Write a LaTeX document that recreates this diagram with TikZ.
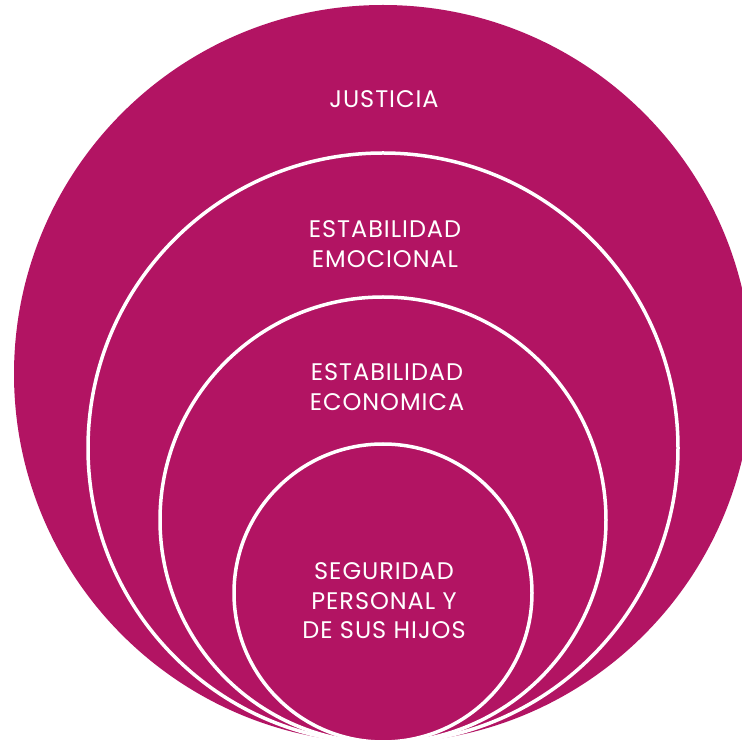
\documentclass[tikz,border=0pt]{standalone}
\usepackage{fontspec}
\setmainfont[LetterSpace=4]{Poppins}
\definecolor{discfill}{RGB}{178,20,99}
\newcommand{\ring}[4]{% #1: name, #2: x, #3: y, #4: diameter
	\node[ring,minimum size=#4pt] (#1) at (#2,#3) {};
}
\tikzset{
	ring/.style={circle,inner sep=0pt,fill=discfill,draw=white,line width=3.5pt},
	lbl/.style={text=white,font=\fontsize{24}{29.5}\selectfont,align=center}
}
\begin{document}
\begin{tikzpicture}[x=1pt,y=1pt]
	\useasboundingbox (0,0) rectangle (742,745);
	\clip (0,0) rectangle (742,745);
	
	% Outer disc
	\node[circle,inner sep=0pt,fill=discfill,minimum size=738pt] (justicia) at (383,371) {};
	
	% Nested rings, all touching at the bottom
	\ring{emocional}{383}{297}{590}
	\ring{economica}{383}{225}{446}
	\ring{seguridad}{383}{152}{298}
	
	% Labels
	\node[lbl] (tjusticia) at (384,646) {JUSTICIA};
	\node[lbl] (temocional) at (385,501) {ESTABILIDAD\\EMOCIONAL};
	\node[lbl] (teconomica) at (387,358) {ESTABILIDAD\\ECONOMICA};
	\node[lbl] (tseguridad) at (384,144) {SEGURIDAD\\PERSONAL Y\\DE SUS HIJOS};
	
\end{tikzpicture}
\end{document}
